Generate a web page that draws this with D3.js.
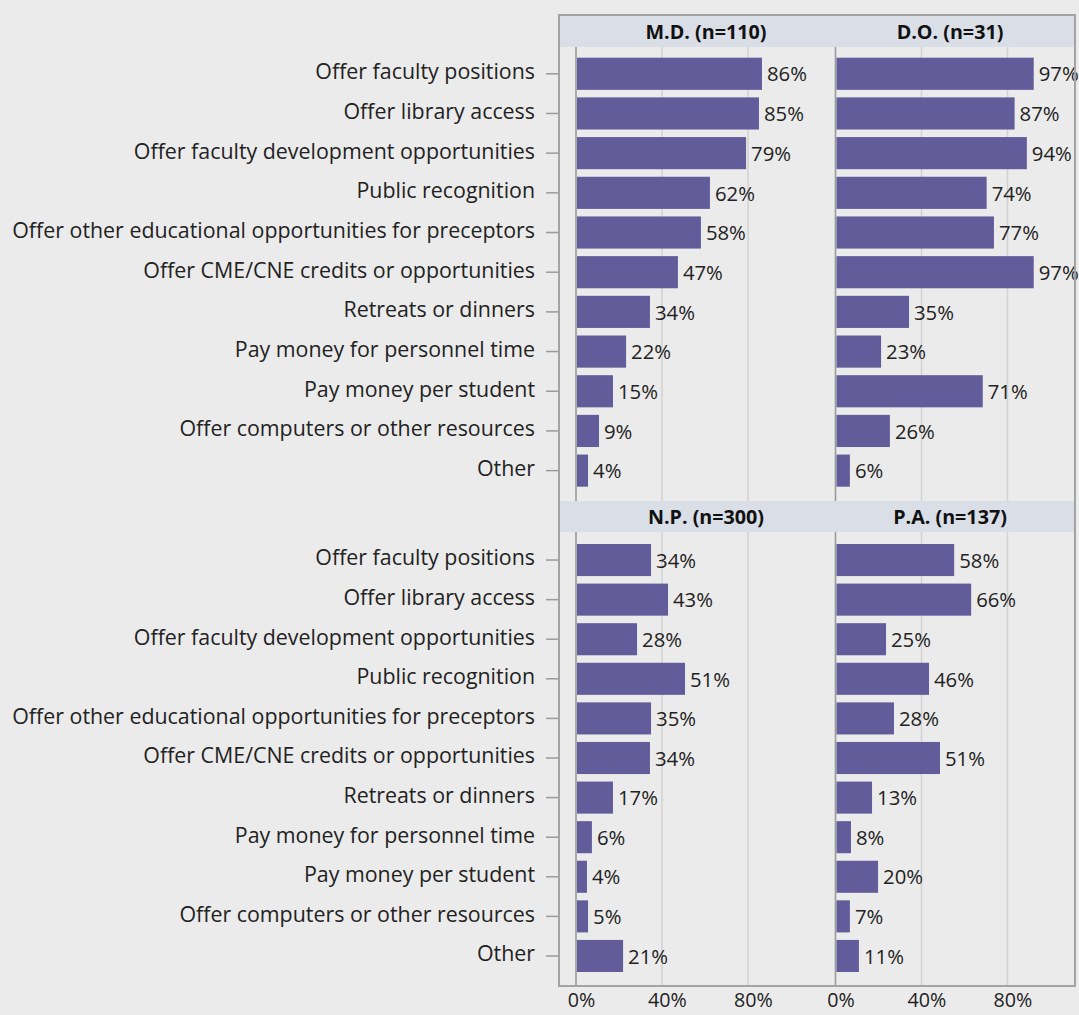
<!DOCTYPE html>
<html><head><meta charset="utf-8">
<script src="https://cdn.jsdelivr.net/npm/d3@7"></script>
<style>
html,body{margin:0;padding:0;background:#ebebeb;}
svg{display:block;}
</style></head>
<body>
<svg id="chart" width="1079" height="1015"></svg>
<script>
// ---- data ----
const categories = [
  "Offer faculty positions",
  "Offer library access",
  "Offer faculty development opportunities",
  "Public recognition",
  "Offer other educational opportunities for preceptors",
  "Offer CME/CNE credits or opportunities",
  "Retreats or dinners",
  "Pay money for personnel time",
  "Pay money per student",
  "Offer computers or other resources",
  "Other"
];
const panelTitles = ["M.D. (n=110)", "D.O. (n=31)", "N.P. (n=300)", "P.A. (n=137)"];
// printed labels (%)
const mdLabels = [86, 85, 79, 62, 58, 47, 34, 22, 15, 9, 4];
const doLabels = [97, 87, 94, 74, 77, 97, 35, 23, 71, 26, 6];
const npLabels = [34, 43, 28, 51, 35, 34, 17, 6, 4, 5, 21];
const paLabels = [58, 66, 25, 46, 28, 51, 13, 8, 20, 7, 11];
// bar lengths as read against the gridlines (%)
const mdBars = [86.5, 85.1, 79.1, 62.3, 58.1, 47.4, 34.4, 23.3, 17.2, 10.7, 5.6];
const doBars = [92.2, 83.3, 89.0, 70.3, 73.7, 92.2, 34.2, 21.2, 68.5, 25.3, 6.7];
const npBars = [34.9, 42.8, 28.4, 50.7, 34.9, 34.4, 17.2, 7.4, 5.1, 5.6, 21.9];
const paBars = [55.2, 63.1, 23.5, 43.5, 27.2, 48.6, 17.0, 7.2, 19.8, 6.7, 10.9];
const xTicks = [0, 40, 80];
const xTickLabels = ["0%", "40%", "80%"];

// ---- layout ----
const svg = d3.select("#chart");
const FONT = "'Open Sans', 'Noto Sans', sans-serif";
const BAR = "#635c9b", TXT = "#222", AXIS = "#9a9a9a", GRID = "#d2d2d2", STRIP = "#d9dee7";
const frame = {x0: 559, x1: 1075, y0: 15, y1: 986};
const colX = [[576, 791], [835.5, 1050.5]];
const rowsY = [{stripTop: 15, stripBot: 47, plotTop: 47, plotBot: 501, bars: [57.7, 486.7]},
               {stripTop: 501, stripBot: 532, plotTop: 532, plotBot: 986, bars: [544, 972]}];
const panels = [
  {title: panelTitles[0], labels: mdLabels, bars: mdBars, r: 0, c: 0, tx: 706},
  {title: panelTitles[1], labels: doLabels, bars: doBars, r: 0, c: 1, tx: 950},
  {title: panelTitles[2], labels: npLabels, bars: npBars, r: 1, c: 0, tx: 706},
  {title: panelTitles[3], labels: paLabels, bars: paBars, r: 1, c: 1, tx: 950}
];

// font fitting helper
function fitSize(text, weight, targetW) {
  const t = svg.append("text").attr("font-family", FONT).attr("font-size", 20)
    .attr("font-weight", weight).text(text);
  const w = t.node().getComputedTextLength();
  t.remove();
  return 20 * targetW / w;
}
const catSize = fitSize("Offer other educational opportunities for preceptors", 400, 523);
const valSize = fitSize("86%", 400, 40);
const titleSize = fitSize("M.D. (n=110)", 700, 121);

// strips
rowsY.forEach(r => {
  svg.append("rect").attr("x", frame.x0).attr("y", r.stripTop)
    .attr("width", frame.x1 - frame.x0).attr("height", r.stripBot - r.stripTop)
    .attr("fill", STRIP);
});

const xScales = colX.map(rg => d3.scaleLinear().domain([0, 100]).range(rg));
const yScales = rowsY.map(r => d3.scaleBand().domain(categories).range(r.bars)
  .paddingInner(0.19).paddingOuter(0));

// gridlines and zero axes
rowsY.forEach((r, ri) => {
  xScales.forEach((xs, ci) => {
    const g = svg.append("g");
    g.selectAll("line.grid").data(xTicks.filter(t => t > 0)).join("line")
      .attr("x1", d => xs(d)).attr("x2", d => xs(d))
      .attr("y1", r.plotTop).attr("y2", r.plotBot)
      .attr("stroke", GRID).attr("stroke-width", 1.5);
    g.append("line").attr("x1", xs(0)).attr("x2", xs(0))
      .attr("y1", r.plotTop).attr("y2", r.plotBot)
      .attr("stroke", AXIS).attr("stroke-width", 1.6);
  });
});

// bars + labels
panels.forEach(p => {
  const xs = xScales[p.c], ys = yScales[p.r];
  const g = svg.append("g");
  g.selectAll("rect").data(categories).join("rect")
    .attr("x", xs(0) + 1)
    .attr("y", d => ys(d))
    .attr("width", (d, i) => xs(p.bars[i]) - xs(0) - 1)
    .attr("height", ys.bandwidth())
    .attr("fill", BAR);
  g.selectAll("text").data(categories).join("text")
    .attr("x", (d, i) => xs(p.bars[i]) + 5)
    .attr("y", d => ys(d) + ys.bandwidth() / 2)
    .attr("dy", "0.38em")
    .attr("font-family", FONT).attr("font-size", valSize).attr("fill", TXT)
    .text((d, i) => p.labels[i] + "%");
  svg.append("text").attr("x", p.tx).attr("y", (rowsY[p.r].stripTop + rowsY[p.r].stripBot) / 2 + 1)
    .attr("dy", "0.35em").attr("text-anchor", "middle")
    .attr("font-family", FONT).attr("font-weight", 700).attr("font-size", titleSize)
    .attr("fill", "#111").text(p.title);
});

// y axes (left)
rowsY.forEach((r, ri) => {
  const ax = d3.axisLeft(yScales[ri]).tickSize(13).tickPadding(11);
  const g = svg.append("g").attr("transform", `translate(${frame.x0},0)`).call(ax);
  g.select(".domain").remove();
  g.selectAll(".tick line").attr("stroke", AXIS).attr("stroke-width", 1.5);
  g.selectAll(".tick text").attr("font-family", FONT).attr("font-size", catSize)
    .attr("fill", TXT).attr("dy", "0.25em");
});

// bottom x axes
xScales.forEach(xs => {
  const ax = d3.axisBottom(xs).tickValues(xTicks).tickSize(0).tickPadding(0)
    .tickFormat((d, i) => xTickLabels[i]);
  const g = svg.append("g").attr("transform", `translate(0,${frame.y1})`).call(ax);
  g.select(".domain").remove();
  g.selectAll(".tick text").attr("font-family", FONT).attr("font-size", valSize * 0.97)
    .attr("fill", TXT).attr("dx", 5).attr("dy", "1.05em");
});

// frame
svg.append("rect").attr("x", frame.x0).attr("y", frame.y0)
  .attr("width", frame.x1 - frame.x0).attr("height", frame.y1 - frame.y0)
  .attr("fill", "none").attr("stroke", "#a3a3a3").attr("stroke-width", 2);
</script>
</body></html>
